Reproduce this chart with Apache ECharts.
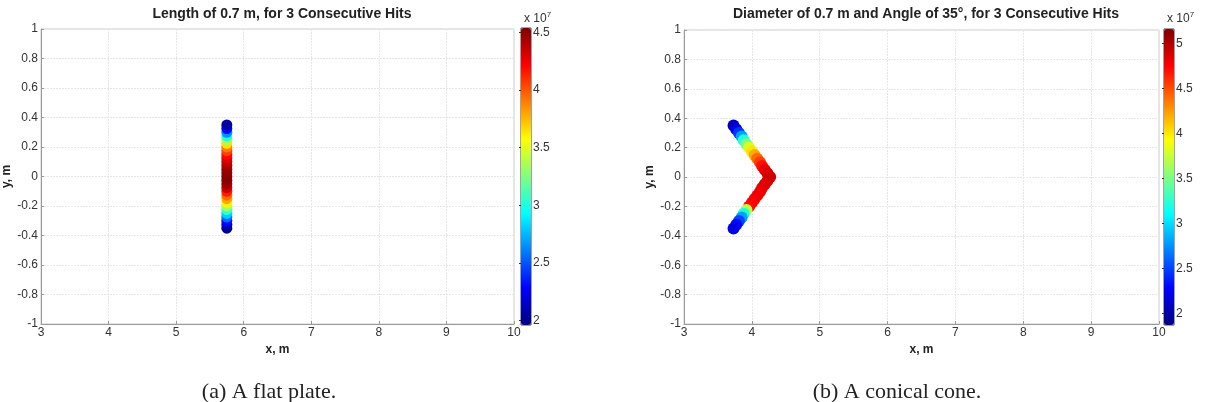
<!DOCTYPE html>
<html>
<head>
<meta charset="utf-8">
<script src="https://cdn.jsdelivr.net/npm/echarts@6/dist/echarts.min.js"></script>
<style>
html,body{margin:0;padding:0;background:#fff;}
#chart{width:1206px;height:402px;}
</style>
</head>
<body>
<div id="chart"></div>
<script>
// (a) flat plate, length 0.7 m - colour value is x 10^7
const plateX = [5.75,5.75,5.75,5.75,5.75,5.75,5.75,5.75,5.75,5.75,5.75,5.75,5.75,5.75,5.75,
                5.75,5.75,5.75,5.75,5.75,5.75,5.75,5.75,5.75,5.75,5.75,5.75,5.75,5.75];
const plateY = [-0.35,-0.325,-0.3,-0.275,-0.25,-0.225,-0.2,-0.175,-0.15,-0.125,-0.1,-0.075,-0.05,-0.025,0,
                0.025,0.05,0.075,0.1,0.125,0.15,0.175,0.2,0.225,0.25,0.275,0.3,0.325,0.35];
const plateVal = [2.0,2.1,2.3,2.55,2.8,3.05,3.35,3.6,3.8,3.95,4.15,4.35,4.45,4.5,4.52,
                  4.5,4.48,4.45,4.38,4.3,4.2,4.05,3.9,3.65,3.35,3.0,2.65,2.3,2.05];

// (b) conical cone, diameter 0.7 m, angle 35 deg
const coneX = [3.73,3.77,3.81,3.85,3.88,3.92,3.96,4.0,4.04,4.08,4.12,4.15,4.19,4.23,4.27,
               4.23,4.19,4.15,4.12,4.08,4.04,4.0,3.96,3.92,3.88,3.85,3.81,3.77,3.73];
const coneY = [0.35,0.325,0.3,0.275,0.25,0.225,0.2,0.175,0.15,0.125,0.1,0.075,0.05,0.025,0,
               -0.025,-0.05,-0.075,-0.1,-0.125,-0.15,-0.175,-0.2,-0.225,-0.25,-0.275,-0.3,-0.325,-0.35];
const coneVal = [2.05,2.2,2.45,2.8,3.2,3.5,3.8,4.0,4.2,4.4,4.55,4.7,4.8,4.85,4.9,
                 4.9,4.85,4.85,4.8,4.8,4.78,4.75,4.72,3.7,3.2,2.8,2.5,2.3,2.2];

// colorbar limits and ticks
const plateRange = [1.96, 4.54];
const coneRange = [1.87, 5.16];
const plateBarTicks = [2, 2.5, 3, 3.5, 4, 4.5];
const coneBarTicks = [2, 2.5, 3, 3.5, 4, 4.5, 5];

// matlab jet
const jet = ['#00007f','#0000ff','#007fff','#00ffff','#7fff7f','#ffff00','#ff7f00','#ff0000','#7f0000'];

const FONT = 'Liberation Sans';

function toData(xs, ys, vs) {
    return xs.map((x, i) => [x, ys[i], vs[i]]);
}

// axes for a plot grid
function plotX(gi) {
    return {
        gridIndex: gi, type: 'value', min: 3, max: 10, interval: 1,
        name: 'x, m', nameLocation: 'middle', nameGap: 19,
        nameTextStyle: {fontFamily: FONT, fontWeight: 'bold', fontSize: 12, color: '#222'},
        axisLine: {onZero: false, lineStyle: {color: '#999'}},
        axisTick: {inside: true, length: 3, lineStyle: {color: '#999'}},
        axisLabel: {fontFamily: FONT, fontSize: 12, color: '#333', margin: 3},
        splitLine: {show: true, lineStyle: {color: '#e6e6e6', type: [2, 1]}}
    };
}
function plotY(gi) {
    return {
        gridIndex: gi, type: 'value', min: -1, max: 1, interval: 0.2,
        name: 'y, m', nameLocation: 'middle', nameGap: 28, nameRotate: 90,
        nameTextStyle: {fontFamily: FONT, fontWeight: 'bold', fontSize: 12, color: '#222'},
        axisLine: {onZero: false, lineStyle: {color: '#999'}},
        axisTick: {inside: true, length: 3, lineStyle: {color: '#999'}},
        axisLabel: {fontFamily: FONT, fontSize: 12, color: '#333', margin: 3,
            formatter: v => String(Math.round(v * 10) / 10)},
        splitLine: {show: true, lineStyle: {color: '#e6e6e6', type: [2, 1]}}
    };
}
// colorbar axis
function barY(gi, range, ticks) {
    return {
        gridIndex: gi, type: 'value', min: range[0], max: range[1], position: 'right',
        axisLine: {show: false},
        axisTick: {show: true, inside: true, length: 2, customValues: ticks, lineStyle: {color: '#333'}},
        axisLabel: {fontFamily: FONT, fontSize: 12, color: '#333', margin: 2, customValues: ticks},
        splitLine: {show: false}
    };
}
function barX(gi) {
    return {gridIndex: gi, type: 'value', min: 0, max: 1, show: false};
}

const titleStyle = {fontFamily: FONT, fontWeight: 'bold', fontSize: 14, color: '#222'};
const captionStyle = {fontFamily: 'Liberation Serif', fontWeight: 'normal', fontSize: 22, color: '#222'};
const expStyle = {text: 'x 10{s|7}', font: '12px ' + FONT, fill: '#333',
                  rich: {s: {fontSize: 8, verticalAlign: 'top', padding: [0, 0, 7, 0]}}};

const option = {
    backgroundColor: '#fff',
    animation: false,
    title: [
        {text: 'Length of 0.7 m, for 3 Consecutive Hits', left: 277, top: 2, textAlign: 'center', textStyle: titleStyle},
        {text: 'Diameter of 0.7 m and Angle of 35°, for 3 Consecutive Hits', left: 921, top: 2, textAlign: 'center', textStyle: titleStyle},
        {text: '(a) A flat plate.', left: 264, top: 376, textAlign: 'center', textStyle: captionStyle},
        {text: '(b) A conical cone.', left: 892, top: 376, textAlign: 'center', textStyle: captionStyle}
    ],
    graphic: [
        {type: 'text', left: 524, top: 11, style: expStyle},
        {type: 'text', left: 1167, top: 11, style: expStyle}
    ],
    grid: [
        {left: 41, top: 29, width: 473, height: 295, show: true, borderColor: '#ccc', borderWidth: 1},
        {left: 684, top: 30, width: 475, height: 294, show: true, borderColor: '#ccc', borderWidth: 1},
        {left: 521, top: 28, width: 10, height: 297, show: true, borderColor: '#444', borderWidth: 1},
        {left: 1164, top: 29, width: 10, height: 296, show: true, borderColor: '#444', borderWidth: 1}
    ],
    xAxis: [plotX(0), plotX(1), barX(2), barX(3)],
    yAxis: [plotY(0), plotY(1), barY(2, plateRange, plateBarTicks), barY(3, coneRange, coneBarTicks)],
    visualMap: [
        {type: 'continuous', seriesIndex: 0, dimension: 2, min: plateRange[0], max: plateRange[1],
         left: 521, top: 28, itemWidth: 10, itemHeight: 297, padding: 0, calculable: false,
         showLabel: false, text: null, inRange: {color: jet}},
        {type: 'continuous', seriesIndex: 1, dimension: 2, min: coneRange[0], max: coneRange[1],
         left: 1164, top: 29, itemWidth: 10, itemHeight: 296, padding: 0, calculable: false,
         showLabel: false, text: null, inRange: {color: jet}}
    ],
    series: [
        {type: 'scatter', xAxisIndex: 0, yAxisIndex: 0, symbolSize: 11,
         data: toData(plateX, plateY, plateVal), itemStyle: {opacity: 1}},
        {type: 'scatter', xAxisIndex: 1, yAxisIndex: 1, symbolSize: 12,
         data: toData(coneX, coneY, coneVal), itemStyle: {opacity: 1}}
    ]
};

const chart = echarts.init(document.getElementById('chart'));
chart.setOption(option);
</script>
</body>
</html>
